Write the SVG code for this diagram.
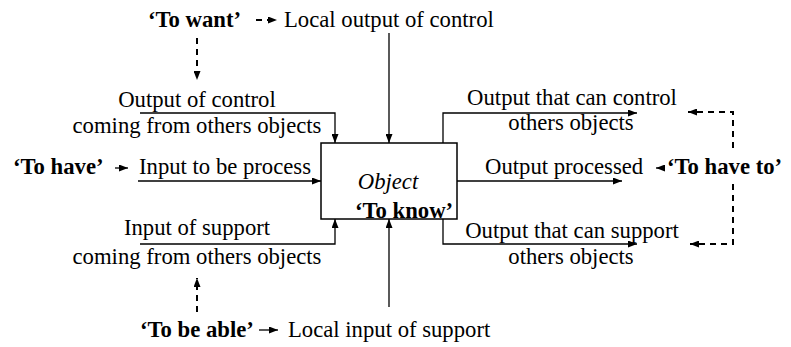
<svg xmlns="http://www.w3.org/2000/svg" width="791" height="347" viewBox="0 0 791 347">
<style>
.t{font-family:'Liberation Serif','Times New Roman',serif;font-size:22.7px;fill:#000}
.b{font-weight:bold}
.i{font-style:italic}
.m{text-anchor:middle}
.s{fill:none;stroke:#000;stroke-width:1.3}
.d{fill:none;stroke:#000;stroke-width:2;stroke-dasharray:6,5}
</style>
<defs>
<marker id="a" markerUnits="userSpaceOnUse" markerWidth="9" markerHeight="7" refX="9" refY="3.5" orient="auto">
<path d="M0,0 L9,3.5 L0,7 z" fill="#000"/>
</marker>
</defs>
<rect width="791" height="347" fill="#fff"/>
<g font-family="Liberation Serif" font-size="22.7">
<g id="object">
<rect x="321" y="143" width="136" height="76" fill="#fff" stroke="#000" stroke-width="1.5"/>
<text x="388" y="189" class="t i m">Object</text>
<text x="355" y="218" class="t b">&#8216;To know&#8217;</text>
</g>
<g id="to-want">
<text x="148" y="27" class="t b">&#8216;To want&#8217;</text>
<text x="284" y="27" class="t">Local output of control</text>
</g>
<g id="control-in">
<text x="197" y="107" class="t m">Output of control</text>
<text x="197" y="133" class="t m">coming from others objects</text>
</g>
<g id="to-have">
<text x="13" y="174" class="t b">&#8216;To have&#8217;</text>
<text x="139" y="174" class="t">Input to be process</text>
</g>
<g id="support-in">
<text x="197" y="235" class="t m">Input of support</text>
<text x="197" y="264" class="t m">coming from others objects</text>
</g>
<g id="to-be-able">
<text x="140" y="337" class="t b">&#8216;To be able&#8217;</text>
<text x="288" y="337" class="t">Local input of support</text>
</g>
<g id="control-out">
<text x="572" y="105" class="t m">Output that can control</text>
<text x="571" y="130" class="t m">others objects</text>
</g>
<g id="processed">
<text x="485" y="174" class="t">Output processed</text>
<text x="667" y="174" class="t b">&#8216;To have to&#8217;</text>
</g>
<g id="support-out">
<text x="572" y="238" class="t m">Output that can support</text>
<text x="571" y="264" class="t m">others objects</text>
</g>
</g>
<g id="connectors">
<path class="s" d="M140,113 H335 V143" marker-end="url(#a)"/>
<path class="s" d="M389,33 V143" marker-end="url(#a)"/>
<path class="s" d="M138,181 H321" marker-end="url(#a)"/>
<path class="s" d="M140,244 H335 V219" marker-end="url(#a)"/>
<path class="s" d="M389,307 V219" marker-end="url(#a)"/>
<path class="s" d="M457,181 H622" marker-end="url(#a)"/>
<path class="s" d="M443,143 V113 H637" marker-end="url(#a)"/>
<path class="s" d="M443,219 V244 H637" marker-end="url(#a)"/>
<path class="s" d="M115,168 H128" marker-end="url(#a)"/>
<path class="s" d="M259,330 H278" marker-end="url(#a)"/>
<path class="s" d="M664,168 H656" marker-end="url(#a)"/>
<path class="d" d="M256,20 H277" marker-end="url(#a)"/>
<path class="d" d="M197,38 V80" marker-end="url(#a)"/>
<path class="d" d="M197,312 V278" marker-end="url(#a)"/>
<path class="d" d="M733,148 V112 H688" marker-end="url(#a)"/>
<path class="d" d="M733,184 V244 H690" marker-end="url(#a)"/>
</g>
</svg>
